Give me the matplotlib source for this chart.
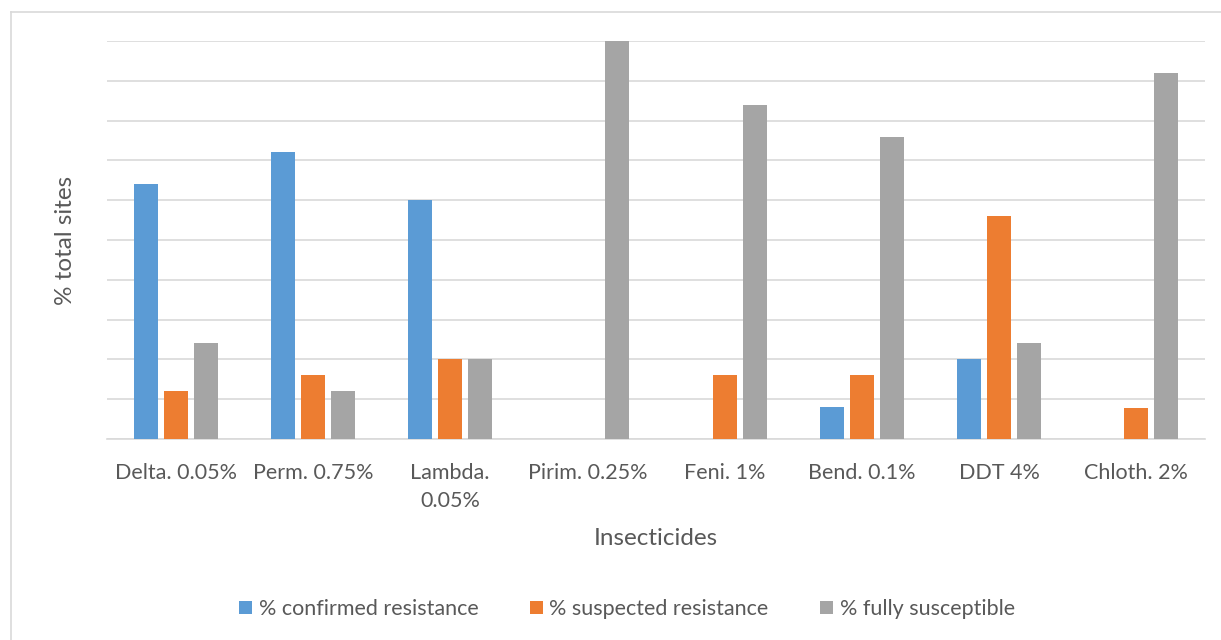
import matplotlib
matplotlib.use("Agg")
import matplotlib.pyplot as plt
from matplotlib.patches import Patch
from matplotlib.lines import Line2D
import numpy as np

categories = ["Delta. 0.05%", "Perm. 0.75%", "Lambda.\n0.05%", "Pirim. 0.25%",
              "Feni. 1%", "Bend. 0.1%", "DDT 4%", "Chloth. 2%"]
confirmed = [64, 72, 60, 0, 0, 8, 20, 0]
suspected = [12, 16, 20, 0, 16, 16, 56, 7.7]
susceptible = [24, 12, 20, 100, 84, 76, 24, 92]
series_names = ["% confirmed resistance", "% suspected resistance", "% fully susceptible"]
colors = ["#5B9BD5", "#ED7D31", "#A5A5A5"]

plt.rcParams['font.family'] = ['Lato', 'DejaVu Sans']
txt = "#595959"

fig = plt.figure(figsize=(12.21, 6.4), dpi=100)
W, H = 1221, 640
ax = fig.add_axes([107 / W, 1 - 439 / H, (1205 - 107) / W, (439 - 41) / H])

x = np.arange(len(categories))
bw = 0.175
step = 0.219
for i, (vals, c, name) in enumerate(zip([confirmed, suspected, susceptible], colors, series_names)):
    ax.bar(x + (i - 1) * step, vals, width=bw, color=c, label=name, zorder=3)

ax.set_xlim(-0.5, len(categories) - 0.5)
ax.set_ylim(0, 100)
ax.set_yticks(np.arange(0, 101, 10))
ax.yaxis.grid(True, color="#D9D9D9", linewidth=1.2, zorder=0)
ax.tick_params(axis='y', length=0, labelleft=False)
ax.tick_params(axis='x', length=0, pad=17, labelsize=15.5, labelcolor=txt)
ax.set_xticks(x)
ax.set_xticklabels(categories, va='top', linespacing=1.55)
for s in ["top", "right", "left"]:
    ax.spines[s].set_visible(False)
ax.spines["bottom"].set_color("#D9D9D9")
ax.spines["bottom"].set_linewidth(1.2)

ax.set_xlabel("Insecticides", fontsize=17.5, color=txt, labelpad=12)
ax.set_ylabel("% total sites", fontsize=17.5, color=txt, labelpad=22)

handles = [Patch(facecolor=c, edgecolor='none') for c in colors]
fig.legend(handles, series_names, loc='center', bbox_to_anchor=(627 / W, 1 - 609 / H),
           ncol=3, frameon=False, fontsize=15.5, labelcolor=txt, handlelength=0.6,
           handleheight=0.6, handletextpad=0.3, columnspacing=2.4)

# chart area border (top and left visible)
fig.add_artist(Line2D([11 / W, 11 / W], [0, 1 - 12 / H], transform=fig.transFigure,
                      color="#D9D9D9", linewidth=1.2))
fig.add_artist(Line2D([11 / W, 1], [1 - 12 / H, 1 - 12 / H], transform=fig.transFigure,
                      color="#D9D9D9", linewidth=1.2))

fig.savefig("out.png", dpi=100, facecolor="white")
